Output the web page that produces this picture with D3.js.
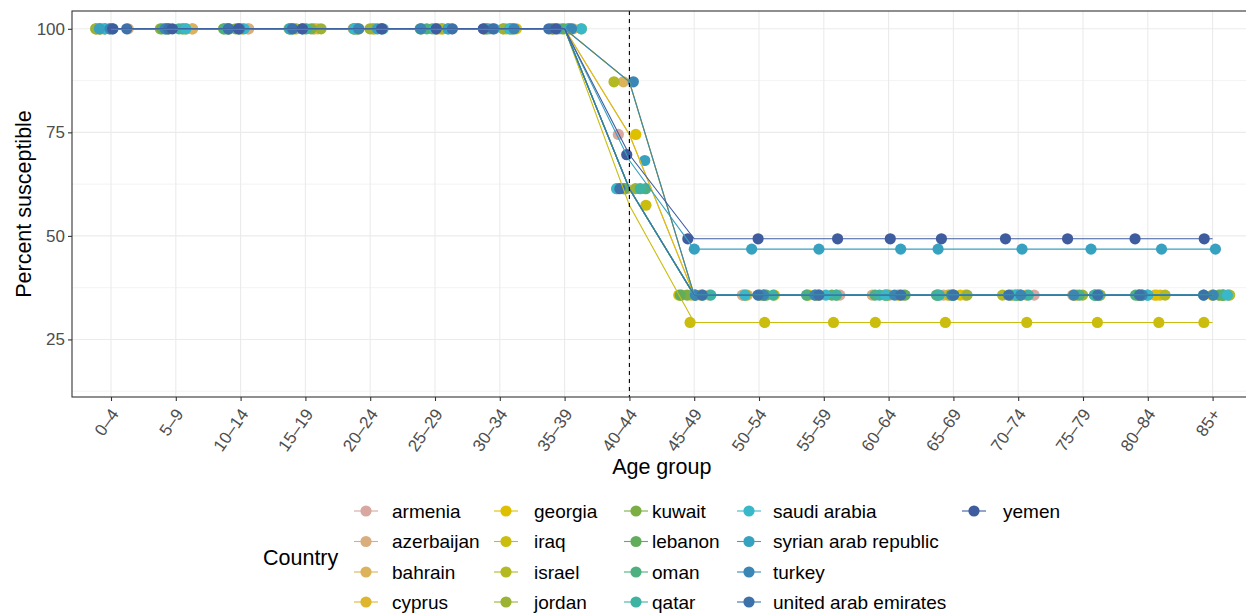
<!DOCTYPE html>
<html><head><meta charset="utf-8">
<script src="https://cdn.jsdelivr.net/npm/d3@7"></script>
<style>
body{margin:0;background:#fff}
svg{display:block}
text{font-family:"Liberation Sans",Arial,sans-serif}
</style>
</head><body>
<svg id="chart" width="1246" height="613"></svg>
<script>
// ---------------- data ----------------
const ageGroups = ["0–4","5–9","10–14","15–19","20–24","25–29","30–34","35–39","40–44","45–49","50–54","55–59","60–64","65–69","70–74","75–79","80–84","85+"];
const countries = ["armenia","azerbaijan","bahrain","cyprus","georgia","iraq","israel","jordan","kuwait","lebanon","oman","qatar","saudi arabia","syrian arab republic","turkey","united arab emirates","yemen"];
const countryColors = ["#D8A8A0","#D9AD7C","#DCB35A","#DDB62E","#DEC000","#CBBD0E","#B3B823","#9BB234","#7DAE43","#62AD5B","#4FB07F","#3EB3A2","#38B8C8","#37A1C0","#3A87B6","#3D71A9","#3F5C9F"];
const armenia    = [100,100,100,100,100,100,100,100,74.5,35.7,35.7,35.7,35.7,35.7,35.7,35.7,35.7,35.7];
const azerbaijan = [100,100,100,100,100,100,100,100,61.4,35.7,35.7,35.7,35.7,35.7,35.7,35.7,35.7,35.7];
const bahrain    = [100,100,100,100,100,100,100,100,87.2,35.7,35.7,35.7,35.7,35.7,35.7,35.7,35.7,35.7];
const cyprus     = [100,100,100,100,100,100,100,100,61.4,35.7,35.7,35.7,35.7,35.7,35.7,35.7,35.7,35.7];
const georgia    = [100,100,100,100,100,100,100,100,74.5,35.7,35.7,35.7,35.7,35.7,35.7,35.7,35.7,35.7];
const iraq       = [100,100,100,100,100,100,100,100,57.4,29.1,29.1,29.1,29.1,29.1,29.1,29.1,29.1,29.1];
const israel     = [100,100,100,100,100,100,100,100,87.2,35.7,35.7,35.7,35.7,35.7,35.7,35.7,35.7,35.7];
const jordan     = [100,100,100,100,100,100,100,100,61.4,35.7,35.7,35.7,35.7,35.7,35.7,35.7,35.7,35.7];
const kuwait     = [100,100,100,100,100,100,100,100,61.4,35.7,35.7,35.7,35.7,35.7,35.7,35.7,35.7,35.7];
const lebanon    = [100,100,100,100,100,100,100,100,61.4,35.7,35.7,35.7,35.7,35.7,35.7,35.7,35.7,35.7];
const oman       = [100,100,100,100,100,100,100,100,61.4,35.7,35.7,35.7,35.7,35.7,35.7,35.7,35.7,35.7];
const qatar      = [100,100,100,100,100,100,100,100,61.4,35.7,35.7,35.7,35.7,35.7,35.7,35.7,35.7,35.7];
const saudiArabia= [100,100,100,100,100,100,100,100,61.4,35.7,35.7,35.7,35.7,35.7,35.7,35.7,35.7,35.7];
const syria      = [100,100,100,100,100,100,100,100,68.2,46.8,46.8,46.8,46.8,46.8,46.8,46.8,46.8,46.8];
const turkey     = [100,100,100,100,100,100,100,100,87.2,35.7,35.7,35.7,35.7,35.7,35.7,35.7,35.7,35.7];
const uae        = [100,100,100,100,100,100,100,100,61.4,35.7,35.7,35.7,35.7,35.7,35.7,35.7,35.7,35.7];
const yemen      = [100,100,100,100,100,100,100,100,69.6,49.3,49.3,49.3,49.3,49.3,49.3,49.3,49.3,49.3];
const yTicks = [25,50,75,100];
const yMinor = [12.5,37.5,62.5,87.5];
const cutoffAge = "40–44";

const seriesValues = [armenia,azerbaijan,bahrain,cyprus,georgia,iraq,israel,jordan,kuwait,lebanon,oman,qatar,saudiArabia,syria,turkey,uae,yemen];

// ---------------- layout ----------------
const svg = d3.select("#chart");
const P = {left:72, top:11, bottom:397};
const x = d3.scalePoint().domain(ageGroups).range([111, 1212.6]);
const step = x.step();
P.right = x(ageGroups[ageGroups.length-1]) + 0.6*step;
const y = d3.scaleLinear().domain([11.1, 104.3]).range([P.bottom, P.top]);

const g = svg.append("g");
// grid
g.selectAll(".ymin").data(yMinor).join("line")
  .attr("x1",P.left).attr("x2",P.right).attr("y1",d=>y(d)).attr("y2",d=>y(d))
  .attr("stroke","#EBEBEB").attr("stroke-width",0.6);
g.selectAll(".ymaj").data(yTicks).join("line")
  .attr("x1",P.left).attr("x2",P.right).attr("y1",d=>y(d)).attr("y2",d=>y(d))
  .attr("stroke","#EBEBEB").attr("stroke-width",1.1);
g.selectAll(".xmaj").data(ageGroups).join("line")
  .attr("x1",d=>x(d)).attr("x2",d=>x(d)).attr("y1",P.top).attr("y2",P.bottom)
  .attr("stroke","#EBEBEB").attr("stroke-width",1.1);

// points (jittered)
const rng = d3.randomLcg(0.137);
const pts = [];
countries.forEach((c,ci)=>{
  ageGroups.forEach((a,ai)=>{
    pts.push({c:ci, a, v:seriesValues[ci][ai], j:(rng()*2-1)*0.27*step});
  });
});
const col = d3.scaleOrdinal().domain(d3.range(countries.length)).range(countryColors);
g.append("g").selectAll("circle").data(pts).join("circle")
  .attr("cx",d=>x(d.a)+d.j).attr("cy",d=>y(d.v)).attr("r",5.6)
  .attr("fill",d=>col(d.c));

// lines
const line = d3.line().x((d,i)=>x(ageGroups[i])).y(d=>y(d));
g.append("g").selectAll("path").data(seriesValues).join("path")
  .attr("d",d=>line(d)).attr("fill","none")
  .attr("stroke",(d,i)=>col(i)).attr("stroke-width",1.1);

// cutoff line
g.append("line").attr("x1",x(cutoffAge)).attr("x2",x(cutoffAge))
  .attr("y1",P.top).attr("y2",P.bottom)
  .attr("stroke","#000").attr("stroke-width",1.1).attr("stroke-dasharray","4,4");

// border
g.append("rect").attr("x",P.left).attr("y",P.top)
  .attr("width",P.right-P.left).attr("height",P.bottom-P.top)
  .attr("fill","none").attr("stroke","#333").attr("stroke-width",1.1);

// y axis
const yAxis = g.append("g").attr("transform",`translate(${P.left},0)`)
  .call(d3.axisLeft(y).tickValues(yTicks).tickSize(4).tickPadding(3));
yAxis.select(".domain").remove();
yAxis.selectAll("line").attr("stroke","#333").attr("stroke-width",1.1);
yAxis.selectAll("text").attr("fill","#4D4D4D").style("font-size","17px")
  .style("font-family","Liberation Sans, Arial, sans-serif");

// x axis
const xAxis = g.append("g").attr("transform",`translate(0,${P.bottom})`)
  .call(d3.axisBottom(x).tickSize(4).tickPadding(0));
xAxis.select(".domain").remove();
xAxis.selectAll("line").attr("stroke","#333").attr("stroke-width",1.1);
xAxis.selectAll("text")
  .attr("fill","#4D4D4D").style("font-size","17px")
  .style("font-family","Liberation Sans, Arial, sans-serif")
  .attr("text-anchor","end").attr("dy",null).attr("y",null)
  .attr("transform","translate(8,17) rotate(-55)");

// titles
svg.append("text").attr("x",(P.left+P.right)/2).attr("y",474)
  .attr("text-anchor","middle").style("font-size","21.5px").attr("fill","#000").text("Age group");
svg.append("text").attr("transform",`translate(31,${(P.top+P.bottom)/2}) rotate(-90)`)
  .attr("text-anchor","middle").style("font-size","21.5px").attr("fill","#000").text("Percent susceptible");

// legend
svg.append("text").attr("x",263).attr("y",565).style("font-size","21.5px").attr("fill","#000").text("Country");
const keyCx = [366,506,636,749,974];
const textX = [392,534,652,773,1003];
const rowY = [511,541.5,572,602];
const lg = svg.append("g").selectAll("g").data(countries).join("g")
  .attr("transform",(d,i)=>`translate(${keyCx[Math.floor(i/4)]},${rowY[i%4]})`);
lg.append("line").attr("x1",-12).attr("x2",12).attr("stroke",(d,i)=>col(i)).attr("stroke-width",1.1);
lg.append("circle").attr("r",5.6).attr("fill",(d,i)=>col(i));
lg.append("text").attr("x",(d,i)=>textX[Math.floor(i/4)]-keyCx[Math.floor(i/4)]).attr("y",6.5)
  .style("font-size","19px").attr("fill","#000").text(d=>d);
</script>
</body></html>
